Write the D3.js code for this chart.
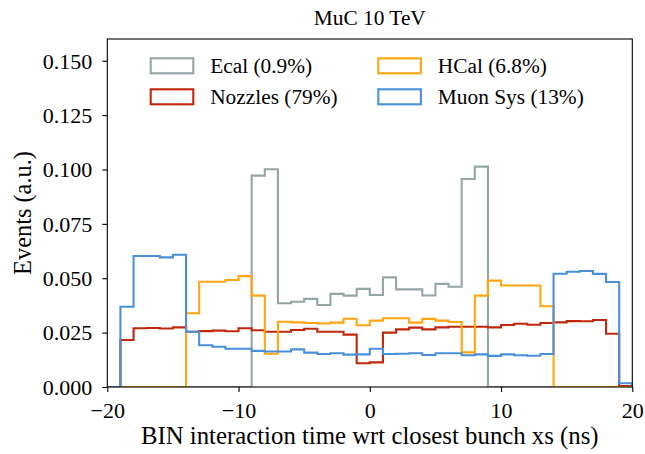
<!DOCTYPE html>
<html><head><meta charset="utf-8">
<script src="https://cdn.jsdelivr.net/npm/d3@7"></script>
<style>
html,body{margin:0;padding:0;background:#fff;}
text{font-family:"Liberation Serif","DejaVu Serif",serif;fill:#000;}
</style></head>
<body><svg id="chart" width="645" height="454"></svg>
<script>
// bin edges (ns), 1 ns bins from -20 to 20
const binEdges = [-20,-19,-18,-17,-16,-15,-14,-13,-12,-11,-10,-9,-8,-7,-6,-5,-4,-3,-2,-1,0,1,2,3,4,5,6,7,8,9,10,11,12,13,14,15,16,17,18,19,20];
const seriesNames = ["Ecal (0.9%)","Nozzles (79%)","HCal (6.8%)","Muon Sys (13%)"];
const ecal = [0,0,0,0,0,0,0,0,0,0,0,
  0.0972,0.1001,0.0385,0.0392,0.0405,0.0377,0.0428,0.0420,0.0451,0.0423,0.0504,0.0449,0.0449,0.0421,0.0474,0.0461,0.0956,0.1013,
  0,0,0,0,0,0,0,0,0,0,0];
const nozzles = [0,
  0.0216,0.0270,0.0271,0.0269,0.0274,0.0254,0.0257,0.0259,0.0256,0.0270,0.0261,0.0254,0.0254,0.0262,0.0268,0.0254,0.0254,0.0241,0.0109,
  0.0113,0.0250,0.0265,0.0273,0.0265,0.0274,0.0277,0.0277,0.0277,0.0274,0.0285,0.0291,0.0286,0.0294,0.0297,0.0303,0.0302,0.0308,0.0245,0.0004];
const hcal = [0,0,0,0,0,0,
  0.0339,0.0484,0.0484,0.0492,0.0510,0.0420,0.0153,0.0300,0.0297,0.0294,0.0292,0.0296,0.0314,0.0284,
  0.0305,0.0316,0.0316,0.0296,0.0313,0.0305,0.0299,0.0159,0.0420,0.0489,0.0467,0.0467,0.0467,0.0371,
  0,0,0,0,0,0];
const muon = [0,
  0.0369,0.0602,0.0602,0.0596,0.0608,0.0254,0.0192,0.0185,0.0176,0.0176,0.0166,0.0163,0.0163,0.0173,0.0158,0.0152,0.0155,0.0149,0.0150,
  0.0176,0.0152,0.0153,0.0155,0.0147,0.0155,0.0155,0.0146,0.0150,0.0143,0.0150,0.0146,0.0144,0.0152,0.0521,0.0530,0.0533,0.0520,0.0483,0.0017];
const xTicks = [-20,-10,0,10,20];
const yTicks = [0,0.025,0.05,0.075,0.1,0.125,0.15];
const colors = ["#95a5a6","#c0280c","#ffa50f","#4a90d9"];
const allValues = [ecal, nozzles, hcal, muon];

const svg = d3.select("#chart");
const L = 107.3, R = 632.3, T = 39, B = 387;
const x = d3.scaleLinear().domain([-20,20]).range([L,R]);
const y = d3.scaleLinear().domain([0,0.16]).range([B,T]);

function fitSize(sel, target){
  sel.attr("font-size", 20);
  const w = sel.node().getComputedTextLength();
  return 20*target/w;
}

svg.append("clipPath").attr("id","clip").append("rect")
  .attr("x",L).attr("y",T).attr("width",R-L).attr("height",B-T);

const line = d3.line().x(d=>x(d[0])).y(d=>y(d[1])).curve(d3.curveStepAfter);
allValues.forEach((vals,k)=>{
  const pts = [[binEdges[0],0]];
  vals.forEach((v,i)=>pts.push([binEdges[i],v]));
  pts.push([binEdges[binEdges.length-1], vals[vals.length-1]]);
  pts.push([binEdges[binEdges.length-1], 0]);
  svg.append("path").attr("d",line(pts)).attr("fill","none")
    .attr("stroke",colors[k]).attr("stroke-width",2.1)
    .attr("stroke-linejoin","miter").attr("clip-path","url(#clip)");
});

// axes
const xAxis = d3.axisBottom(x).tickValues(xTicks).tickSize(5).tickPadding(7)
  .tickFormat(d=>d<0?"\u2212"+Math.abs(d):String(d));
const gx = svg.append("g").attr("transform",`translate(0,${B})`).call(xAxis);
gx.select(".domain").remove();
gx.selectAll(".tick line").attr("stroke","#000").attr("stroke-width",1.1);
gx.selectAll(".tick text").attr("font-family","Liberation Serif").attr("font-size",22).attr("fill","#000").attr("dy","0.88em");

const yAxis = d3.axisLeft(y).tickValues(yTicks).tickSize(5).tickPadding(10).tickFormat(d3.format(".3f"));
const gy = svg.append("g").attr("transform",`translate(${L},0)`).call(yAxis);
gy.select(".domain").remove();
gy.selectAll(".tick line").attr("stroke","#000").attr("stroke-width",1.1);
gy.selectAll(".tick text").attr("font-family","Liberation Serif").attr("font-size",22).attr("fill","#000").attr("dy","0.33em");

svg.append("rect").attr("x",L).attr("y",T).attr("width",R-L).attr("height",B-T)
  .attr("fill","none").attr("stroke","#000").attr("stroke-width",1.1);

// legend (column-major: Ecal, Nozzles | HCal, Muon Sys)
const legPos = [[150.7,58.3],[150.7,89.3],[378.3,58.3],[378.3,89.3]];
const legTexts = [];
seriesNames.forEach((n,k)=>{
  const [lx,ly] = legPos[k];
  svg.append("rect").attr("x",lx).attr("y",ly).attr("width",42.6).attr("height",15)
    .attr("fill","none").attr("stroke",colors[k]).attr("stroke-width",2.1);
  legTexts.push(svg.append("text").attr("x",lx+59.5).attr("y",ly+15).text(n));
});
const legSize = fitSize(legTexts[3], 146);
legTexts.forEach(t=>t.attr("font-size",legSize));

// title & labels
svg.append("text").attr("x",(L+R)/2).attr("y",25).attr("text-anchor","middle")
  .attr("font-size",legSize).text("MuC 10 TeV");
const xl = svg.append("text").attr("x",(L+R)/2).attr("y",444).attr("text-anchor","middle")
  .text("BIN interaction time wrt closest bunch xs (ns)");
xl.attr("font-size", fitSize(xl, 458));
const yl = svg.append("text").attr("transform",`translate(31,${(T+B)/2}) rotate(-90)`).attr("text-anchor","middle")
  .text("Events (a.u.)");
yl.attr("font-size", fitSize(yl, 124));
</script></body></html>
